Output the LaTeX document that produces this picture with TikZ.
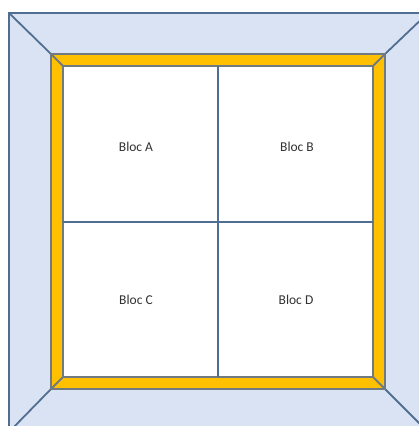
\documentclass[tikz,border=0pt]{standalone}
\usepackage{fontspec}
\setmainfont{Carlito}
\definecolor{FrameBlue}{RGB}{218,227,243}
\definecolor{FrameLine}{RGB}{80,110,145}
\definecolor{BandYellow}{RGB}{255,192,0}
\definecolor{BandLine}{RGB}{112,122,128}
\definecolor{BlocText}{RGB}{50,50,50}

\begin{document}
\begin{tikzpicture}[x=1pt,y=-1pt,line join=miter,
  frm/.style={draw=FrameLine,line width=1.8pt},
  band/.style={draw=BandLine,line width=1.8pt},
  bloc/.style={text=BlocText,font=\fontsize{13.5}{15}\selectfont,inner sep=0pt}]
\useasboundingbox (0,0) rectangle (419,426);
\clip (0,0) rectangle (419,426);
% outer frame, band and blocs
\coordinate (o1) at (9,13);    \coordinate (o2) at (428,13);
\coordinate (o3) at (428,432); \coordinate (o4) at (9,432);
\coordinate (b1) at (51,54);   \coordinate (b2) at (385,54);
\coordinate (b3) at (385,389); \coordinate (b4) at (51,389);
\coordinate (w1) at (63,66);   \coordinate (w2) at (373,66);
\coordinate (w3) at (373,377); \coordinate (w4) at (63,377);
\fill[FrameBlue] (o1) rectangle (o3);
\draw[frm] (o1) rectangle (o3);
\fill[BandYellow] (b1) rectangle (b3);
\fill[white] (w1) rectangle (w3);
\foreach \1 in {1,2,3,4} {
   \draw[frm] (o\1) -- (b\1);
   \draw[band] (b\1) -- (w\1);
}
\draw[band] (b1) rectangle (b3) (w1) rectangle (w3);
\coordinate (mt) at (218,66);  \coordinate (mb) at (218,377);
\coordinate (ml) at (63,222);  \coordinate (mr) at (373,222);
\draw[frm] (mt) -- (mb) (ml) -- (mr);
\foreach \x/\y/\1 in %
{136/147/A,297/147/B,136/300/C,296/300/D} {
   \node[bloc] (bloc\1) at (\x,\y) {Bloc \1};
}
\end{tikzpicture}
\end{document}
